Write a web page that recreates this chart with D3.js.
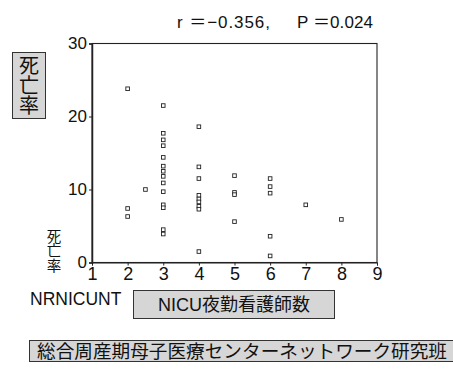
<!DOCTYPE html>
<html><head><meta charset="utf-8">
<script src="https://cdn.jsdelivr.net/npm/d3@7"></script>
<style>
body{margin:0;background:#fff;}
text{font-family:"Liberation Sans","Noto Sans CJK JP",sans-serif;fill:#111;}
.jp{font-family:"Noto Sans CJK JP",sans-serif;}
</style></head><body>
<svg id="c" width="453" height="369"></svg>
<script>
// Data: nurses on NICU night shift (x) vs mortality rate (y)
const nurseCounts = [2,2,2, 2.5, 3,3,3,3,3,3,3,3,3,3,3,3,3,3, 4,4,4,4,4,4,4,4,4, 5,5,5,5, 6,6,6,6,6, 7, 8];
const mortality   = [23.8,7.4,6.3, 10.0, 21.5,17.7,16.8,16.0,14.4,13.2,12.5,11.8,10.9,9.7,7.9,7.5,4.5,3.9,
                     18.6,13.1,11.5,9.2,8.7,8.3,7.7,7.3,1.5, 11.9,9.6,9.3,5.6, 11.5,10.4,9.5,3.6,0.9, 7.9, 5.9];
const xTicks = [1,2,3,4,5,6,7,8,9];
const yTicks = [0,10,20,30];
const statParts = ["r ＝−0.356,", "P ＝0.024"];
const yLabel = "死亡率";
const xVarName = "NRNICUNT";
const xLabel = "NICU夜勤看護師数";
const sourceText = "総合周産期母子医療センターネットワーク研究班";

const svg = d3.select("#c");
const x = d3.scaleLinear().domain([1,9]).range([92,377]);
const y = d3.scaleLinear().domain([0,30]).range([262.5,43.5]);

// frame
svg.append("rect").attr("x",x(1)).attr("y",y(30)).attr("width",x(9)-x(1)).attr("height",y(0)-y(30))
  .attr("fill","none").attr("stroke","#222").attr("stroke-width",1.1);

const gx = svg.append("g").attr("transform",`translate(0,${y(0)})`)
  .call(d3.axisBottom(x).tickValues(xTicks).tickSize(3).tickPadding(2).tickFormat(d3.format("d")));
gx.select(".domain").attr("stroke","#222");
gx.selectAll("line").attr("stroke","#222");
gx.selectAll("text").attr("font-size",18).attr("font-family","Liberation Sans").attr("fill","#111");

const gy = svg.append("g").attr("transform",`translate(${x(1)},0)`)
  .call(d3.axisLeft(y).tickValues(yTicks).tickSize(3).tickPadding(2).tickFormat(d3.format("d")));
gy.select(".domain").attr("stroke","#222").attr("stroke-width",1.5);
gy.selectAll("line").attr("stroke","#222");
gy.selectAll("text").attr("font-size",17).attr("font-family","Liberation Sans").attr("fill","#111");

// points: small hollow squares
const pts = nurseCounts.map((d,i)=>({x:d,y:mortality[i]}));
svg.append("g").selectAll("rect").data(pts).join("rect")
  .attr("x",d=>x(d.x)-1.8).attr("y",d=>y(d.y)-1.8).attr("width",3.6).attr("height",3.6)
  .attr("fill","#fff").attr("stroke","#222").attr("stroke-width",0.9);

// title
const title = svg.append("text").attr("y",28).attr("font-size",17);
title.append("tspan").attr("x",177).attr("textLength",93).attr("lengthAdjust","spacing").text(statParts[0]);
title.append("tspan").attr("x",297).attr("textLength",76).attr("lengthAdjust","spacing").text(statParts[1]);

// boxed y label (vertical)
const grayFill = "#d6d6d6";
svg.append("rect").attr("x",12.5).attr("y",52.5).attr("width",33).attr("height",66)
  .attr("fill",grayFill).attr("stroke","#333").attr("stroke-width",1);
svg.append("text").attr("class","jp").attr("x",29).attr("y",55)
  .attr("writing-mode","vertical-rl").attr("font-size",20).text(yLabel);

// small vertical y label near bottom
svg.append("text").attr("class","jp").attr("x",54).attr("y",229)
  .attr("writing-mode","vertical-rl").attr("font-size",14.5).text(yLabel);

// x var name and boxed label
svg.append("text").attr("x",30).attr("y",305).attr("font-size",17.5).text(xVarName);
svg.append("rect").attr("x",133.5).attr("y",290.5).attr("width",201).attr("height",28)
  .attr("fill",grayFill).attr("stroke","#333").attr("stroke-width",1);
svg.append("text").attr("x",234).attr("y",311).attr("text-anchor","middle").attr("font-size",18).text(xLabel);

// source banner
svg.append("rect").attr("x",29.5).attr("y",340.5).attr("width",430).attr("height",21)
  .attr("fill",grayFill).attr("stroke","#333").attr("stroke-width",1);
svg.append("text").attr("class","jp").attr("x",37).attr("y",358).attr("font-size",18.5)
  .attr("textLength",410).attr("lengthAdjust","spacingAndGlyphs").text(sourceText);
</script></body></html>
